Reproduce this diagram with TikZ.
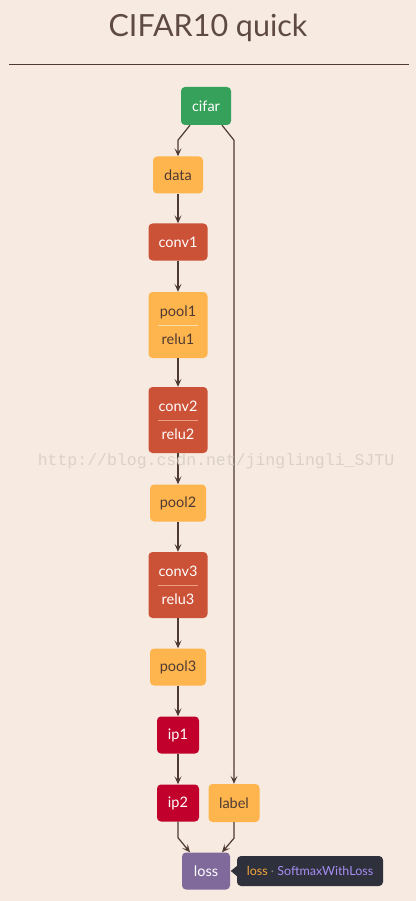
\documentclass[tikz,border=0pt]{standalone}
\usepackage{fontspec}
\setmainfont{Lato}
\setmonofont{Liberation Mono}
\usetikzlibrary{arrows.meta}
\definecolor{bg}{HTML}{F6EAE1}
\definecolor{ink}{HTML}{4E3A33}
\definecolor{titleink}{HTML}{5E4A42}
\definecolor{leafgreen}{HTML}{35A15A}
\definecolor{dataorange}{HTML}{FFB54D}
\definecolor{convred}{HTML}{CC5237}
\definecolor{ipred}{HTML}{C1002B}
\definecolor{losspurple}{HTML}{806A9C}
\definecolor{tipdark}{HTML}{2E303C}
\definecolor{tiporange}{HTML}{F4A73B}
\definecolor{tipviolet}{HTML}{A68EF2}
\definecolor{sepyellow}{HTML}{FFDDA8}
\definecolor{sepred}{HTML}{EC9A84}
\definecolor{wmgray}{HTML}{DCD1C7}

\begin{document}
\begin{tikzpicture}[
  x=1pt, y=-1pt,
  font=\fontsize{14.5}{28}\selectfont,
  every node/.style={align=center, inner sep=0pt},
  layer/.style={rounded corners=4pt, minimum height=37pt, text=white},
  databox/.style={layer, fill=dataorange, text=ink},
  convbox/.style={layer, fill=convred},
  ipbox/.style={layer, fill=ipred},
  arr/.style={draw=ink, line width=1.2pt, -{Stealth[length=8pt, width=7pt, inset=3.5pt]}},
]
\fill[bg] (0,0) rectangle (416,901);
\node[font=\fontsize{30.5}{36}\selectfont, text=titleink, anchor=base] (title) at (208,37) {CIFAR10 quick};
\draw[ink, line width=1pt] (9,65) -- (409,65);

% layers in the main column
\def\cx{178}
\foreach \name/\y/\w/\sty in {data/175/50/databox, conv1/242/59/convbox, pool2/503/56/databox,
                              pool3/667/56/databox, ip1/735/42/ipbox, ip2/803/42/ipbox} {
  \node[\sty, minimum width=\w pt] (\name) at (\cx,\y) {\name};
}
\foreach \top/\bot/\y/\sty/\sepcol in {pool1/relu1/325/databox/sepyellow,
                                       conv2/relu2/420/convbox/sepred,
                                       conv3/relu3/585/convbox/sepred} {
  \node[\sty, minimum width=59pt, minimum height=66pt] (\top) at (\cx,\y) {\top\\\bot};
  \draw[\sepcol, line width=0.6pt] ([xshift=10pt]\top.west) -- ([xshift=-10pt]\top.east);
}
\node[layer, fill=leafgreen, minimum width=50pt, minimum height=38pt] (cifar) at (206,106) {cifar};
\node[databox, minimum width=51pt, minimum height=38pt] (label) at (234,803) {label};
\node[layer, fill=losspurple, minimum width=48pt] (loss) at (206,871) {loss};

% tooltip
\node[fill=tipdark, rounded corners=4pt, minimum width=146pt, minimum height=30pt,
      font=\fontsize{12.5}{14}\selectfont] (tip) at (310,871)
  {\textcolor{tiporange}{loss} \textcolor{gray}{·} \textcolor{tipviolet}{SoftmaxWithLoss}};
\fill[tipdark] ([yshift=5pt]tip.west) -- ([xshift=-6pt]tip.west) -- ([yshift=-5pt]tip.west) -- cycle;

% connections
\draw[arr] ([xshift=-16pt]cifar.south) -- ++(-12pt,-15pt) -- (data.north);
\draw[arr] ([xshift=16pt]cifar.south) -- ++(12pt,-15pt) -- (label.north);
\foreach \a/\b in {data/conv1, conv1/pool1, pool1/conv2, conv2/pool2,
                   pool2/conv3, conv3/pool3, pool3/ip1, ip1/ip2} {
  \draw[arr] (\a) -- (\b);
}
\draw[arr] (ip2.south) -- ++(0,-16pt) -- ([xshift=-16pt]loss.north);
\draw[arr] (label.south) -- ++(0,-16pt) -- ([xshift=16pt]loss.north);

% watermark
\node[font=\ttfamily\fontsize{16.5}{18}\selectfont, text=wmgray] (wm) at (216,461)
  {http://blog.csdn.net/jinglingli\_SJTU};
\end{tikzpicture}
\end{document}
